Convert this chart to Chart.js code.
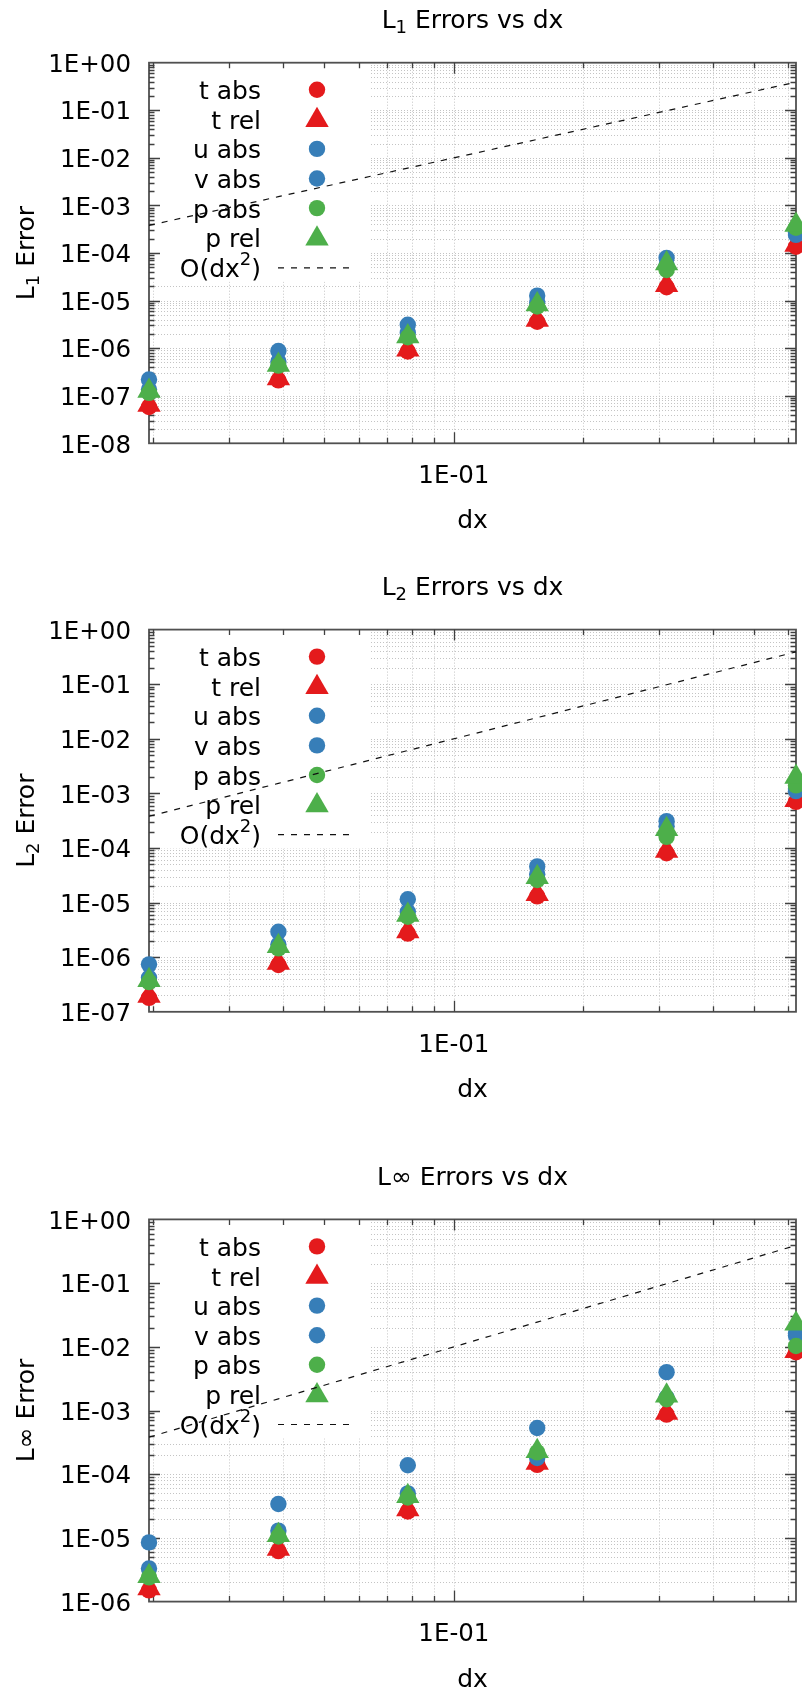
<!DOCTYPE html>
<html><head><meta charset="utf-8">
<script src="https://cdn.jsdelivr.net/npm/chart.js@4.4.1/dist/chart.umd.min.js"></script>
<style>
html,body{margin:0;padding:0;background:#fff;}
#wrap{position:relative;width:802px;height:1691px;overflow:hidden;background:#fff;}
canvas{position:absolute;left:0;}
</style></head><body>
<div id="wrap">
<canvas id="c1" width="802" height="563" style="top:0px"></canvas>
<canvas id="c2" width="802" height="564" style="top:563px"></canvas>
<canvas id="c3" width="802" height="564" style="top:1127px"></canvas>
</div>
<script>
// ---------------- data ----------------
const dx = [0.01953125, 0.0390625, 0.078125, 0.15625, 0.3125, 0.625];
const seriesNames = ['t abs', 't rel', 'u abs', 'v abs', 'p abs', 'p rel'];
const refLineParts = [{t:'O(dx'}, {t:'2', sup:true}, {t:')'}];
const refLine = [0.000381, 0.001526, 0.0061, 0.0244, 0.0977, 0.3906];

const l1TAbs = [5.8e-8, 2.1e-7, 8.5e-7, 3.6e-6, 1.9e-5, 1.35e-4];
const l1TRel = [6.4e-8, 2.3e-7, 9.2e-7, 3.9e-6, 2.1e-5, 1.48e-4];
const l1UAbs = [2.2e-7, 8.7e-7, 3.1e-6, 1.27e-5, 7.9e-5, 2.7e-4];
const l1VAbs = [1.35e-7, 5.2e-7, 2.1e-6, 9.0e-6, 5.5e-5, 2.4e-4];
const l1PAbs = [1.15e-7, 4.3e-7, 1.7e-6, 7.5e-6, 4.4e-5, 3.4e-4];
const l1PRel = [1.25e-7, 4.4e-7, 1.76e-6, 8.3e-6, 6.0e-5, 3.9e-4];

const l2TAbs = [1.8e-7, 7.2e-7, 2.7e-6, 1.3e-5, 8.0e-5, 7.0e-4];
const l2TRel = [1.95e-7, 7.8e-7, 2.95e-6, 1.42e-5, 8.8e-5, 7.5e-4];
const l2UAbs = [7.4e-7, 2.93e-6, 1.15e-5, 4.6e-5, 3.1e-4, 1.2e-3];
const l2VAbs = [4.2e-7, 1.7e-6, 6.8e-6, 3.3e-5, 2.5e-4, 1.1e-3];
const l2PAbs = [3.5e-7, 1.45e-6, 5.5e-6, 2.6e-5, 1.6e-4, 1.4e-3];
const l2PRel = [3.8e-7, 1.58e-6, 5.9e-6, 2.9e-5, 2.2e-4, 2.0e-3];

const liTAbs = [1.5e-6, 6.2e-6, 2.6e-5, 1.4e-4, 8.6e-4, 8.2e-3];
const liTRel = [1.6e-6, 6.7e-6, 2.8e-5, 1.5e-4, 9.1e-4, 8.5e-3];
const liUAbs = [8.5e-6, 3.4e-5, 1.38e-4, 5.3e-4, 4.0e-3, 1.6e-2];
const liVAbs = [3.3e-6, 1.3e-5, 5.0e-5, 1.8e-4, 1.6e-3, 1.5e-2];
const liPAbs = [2.4e-6, 1.05e-5, 4.3e-5, 2.2e-4, 1.5e-3, 1.03e-2];
const liPRel = [2.5e-6, 1.1e-5, 4.5e-5, 2.3e-4, 1.7e-3, 2.3e-2];

const xTickValues = [0.1];
const xTickLabels = ['1E-01'];
const yTicks1 = [1, 1e-1, 1e-2, 1e-3, 1e-4, 1e-5, 1e-6, 1e-7, 1e-8];
const yLabels1 = ['1E+00','1E-01','1E-02','1E-03','1E-04','1E-05','1E-06','1E-07','1E-08'];
const yTicks2 = [1, 1e-1, 1e-2, 1e-3, 1e-4, 1e-5, 1e-6, 1e-7];
const yLabels2 = ['1E+00','1E-01','1E-02','1E-03','1E-04','1E-05','1E-06','1E-07'];
const yTicks3 = [1, 1e-1, 1e-2, 1e-3, 1e-4, 1e-5, 1e-6];
const yLabels3 = ['1E+00','1E-01','1E-02','1E-03','1E-04','1E-05','1E-06'];

const title1 = [{t:'L'}, {t:'1', sub:true}, {t:' Errors vs dx'}];
const title2 = [{t:'L'}, {t:'2', sub:true}, {t:' Errors vs dx'}];
const title3 = [{t:'L∞ Errors vs dx'}];
const ylab1 = [{t:'L'}, {t:'1', sub:true}, {t:' Error'}];
const ylab2 = [{t:'L'}, {t:'2', sub:true}, {t:' Error'}];
const ylab3 = [{t:'L∞ Error'}];
const xAxisLabel = 'dx';

// ---------------- style ----------------
const RED = '#E41A1C', BLUE = '#377EB8', GREEN = '#4DAF4A';
const FONT = "'DejaVu Sans', 'Liberation Sans', sans-serif";
const MAIN = 25, TICKF = 24.5, SMALL = 18;
const styles = [
  {color: RED, shape: 'circle'}, {color: RED, shape: 'triangle'},
  {color: BLUE, shape: 'circle'}, {color: BLUE, shape: 'circle'},
  {color: GREEN, shape: 'circle'}, {color: GREEN, shape: 'triangle'}
];
const CIRC_R = 8.2, TRI_R = 13.5;

function richWidth(ctx, parts, size) {
  let w = 0;
  for (const p of parts) {
    ctx.font = ((p.sub || p.sup) ? SMALL : size) + 'px ' + FONT;
    w += ctx.measureText(p.t).width;
  }
  return w;
}
function drawRich(ctx, parts, x, y, align, size) {
  const w = richWidth(ctx, parts, size);
  let cx = align === 'center' ? x - w / 2 : align === 'right' ? x - w : x;
  ctx.textAlign = 'left';
  ctx.textBaseline = 'alphabetic';
  for (const p of parts) {
    ctx.font = ((p.sub || p.sup) ? SMALL : size) + 'px ' + FONT;
    const dy = p.sub ? 5 : p.sup ? -12 : 0;
    ctx.fillText(p.t, cx, y + dy);
    cx += ctx.measureText(p.t).width;
  }
}
function logGrid(min, max) {
  const out = [];
  for (let e = Math.floor(Math.log10(min)) - 1; e <= Math.ceil(Math.log10(max)); e++) {
    for (let m = 1; m < 10; m++) {
      const v = m * Math.pow(10, e);
      if (v > min * 1.0001 && v < max * 0.9999) out.push({v: v, major: m === 1});
    }
  }
  return out;
}
function drawMarker(ctx, shape, color, x, y) {
  ctx.fillStyle = color;
  ctx.beginPath();
  if (shape === 'circle') {
    ctx.arc(x, y, CIRC_R, 0, Math.PI * 2);
  } else {
    const r = TRI_R;
    ctx.moveTo(x, y - r);
    ctx.lineTo(x + r * Math.sin(2 * Math.PI / 3), y + r / 2);
    ctx.lineTo(x - r * Math.sin(2 * Math.PI / 3), y + r / 2);
    ctx.closePath();
  }
  ctx.fill();
}

const framePlugin = {
  id: 'frame',
  beforeDatasetsDraw(chart) {
    const cfg = chart.options.plugins.frame;
    const ctx = chart.ctx, a = chart.chartArea;
    const xs = chart.scales.x, ys = chart.scales.y;
    ctx.save();
    // grid
    ctx.strokeStyle = '#c4c4c4';
    ctx.lineWidth = 1;
    ctx.setLineDash([1, 2]);
    const gx = logGrid(xs.min, xs.max), gy = logGrid(ys.min, ys.max);
    for (const g of gx) {
      const px = Math.round(xs.getPixelForValue(g.v)) + 0.5;
      ctx.beginPath(); ctx.moveTo(px, a.top); ctx.lineTo(px, a.bottom); ctx.stroke();
    }
    for (const g of gy) {
      const py = Math.round(ys.getPixelForValue(g.v)) + 0.5;
      ctx.beginPath(); ctx.moveTo(a.left, py); ctx.lineTo(a.right, py); ctx.stroke();
    }
    ctx.setLineDash([]);
    // legend box
    ctx.fillStyle = '#fff';
    ctx.fillRect(a.left + 1, a.top + 1, 370 - a.left, 218);
    // legend entries
    const ds = chart.data.datasets;
    for (let i = 0; i < ds.length; i++) {
      const cy = a.top + 27 + i * 29.6;
      ctx.fillStyle = '#000';
      if (ds[i].isRef) {
        drawRich(ctx, refLineParts, 261, cy + 9.5, 'right', MAIN);
        ctx.strokeStyle = '#111'; ctx.lineWidth = 1.2; ctx.setLineDash([6, 7]);
        ctx.beginPath(); ctx.moveTo(278, cy + 0.5); ctx.lineTo(354, cy + 0.5); ctx.stroke();
        ctx.setLineDash([]);
      } else {
        drawRich(ctx, [{t: ds[i].label}], 261, cy + 9.5, 'right', MAIN);
        drawMarker(ctx, ds[i].shape, ds[i].pointBackgroundColor, 317, ds[i].shape === 'triangle' ? cy + 1 : cy);
      }
    }
    // border
    ctx.strokeStyle = '#505050';
    ctx.lineWidth = 1.8;
    ctx.strokeRect(a.left, a.top, a.right - a.left, a.bottom - a.top);
    // ticks on all four sides
    ctx.strokeStyle = '#404040';
    ctx.lineWidth = 1.3;
    for (const g of gx) {
      const px = Math.round(xs.getPixelForValue(g.v)) + 0.5;
      const L = g.major ? 11 : 5.5;
      ctx.beginPath();
      ctx.moveTo(px, a.bottom); ctx.lineTo(px, a.bottom - L);
      ctx.moveTo(px, a.top); ctx.lineTo(px, a.top + L);
      ctx.stroke();
    }
    for (const g of gy) {
      const py = Math.round(ys.getPixelForValue(g.v)) + 0.5;
      const L = g.major ? 11 : 5.5;
      ctx.beginPath();
      ctx.moveTo(a.left, py); ctx.lineTo(a.left + L, py);
      ctx.moveTo(a.right, py); ctx.lineTo(a.right - L, py);
      ctx.stroke();
    }
    // tick labels
    ctx.fillStyle = '#000';
    ctx.font = TICKF + 'px ' + FONT;
    ctx.textAlign = 'right';
    ctx.textBaseline = 'alphabetic';
    cfg.yTicks.forEach((v, i) => {
      const py = ys.getPixelForValue(v);
      ctx.fillText(cfg.yLabels[i], 131, py + 9.2);
    });
    ctx.textAlign = 'center';
    xTickValues.forEach((v, i) => {
      const px = xs.getPixelForValue(v);
      ctx.fillText(xTickLabels[i], px, a.bottom + 39.7);
    });
    // axis titles
    ctx.font = MAIN + 'px ' + FONT;
    ctx.fillText(xAxisLabel, (a.left + a.right) / 2, a.bottom + 85);
    drawRich(ctx, cfg.title, (a.left + a.right) / 2, a.top - 34.4, 'center', MAIN);
    ctx.save();
    ctx.translate(34, (a.top + a.bottom) / 2);
    ctx.rotate(-Math.PI / 2);
    drawRich(ctx, cfg.ylabel, 0, 0, 'center', MAIN);
    ctx.restore();
    ctx.restore();
  }
};

function makeChart(id, series, yMin, top, bottom, height, title, ylabel, yTicks, yLabels) {
  const datasets = series.map((vals, i) => ({
    label: seriesNames[i],
    shape: styles[i].shape,
    data: dx.map((x, j) => ({x: x, y: vals[j]})),
    showLine: false,
    pointStyle: styles[i].shape,
    pointRadius: styles[i].shape === 'triangle' ? TRI_R : CIRC_R,
    pointBackgroundColor: styles[i].color,
    pointBorderWidth: 0,
    pointBorderColor: styles[i].color,
    order: 6 - i,
    clip: false
  }));
  datasets.push({
    label: 'O(dx^2)',
    isRef: true,
    data: dx.map((x, j) => ({x: x, y: refLine[j]})),
    showLine: true,
    borderColor: '#111',
    borderWidth: 1.2,
    borderDash: [6, 7],
    pointRadius: 0,
    order: 0,
    clip: false
  });
  return new Chart(document.getElementById(id), {
    type: 'scatter',
    data: {datasets: datasets},
    options: {
      responsive: false,
      animation: false,
      devicePixelRatio: 1,
      events: [],
      layout: {autoPadding: false, padding: {top: top, right: 6, left: 0, bottom: 0}},
      plugins: {
        legend: {display: false},
        tooltip: {enabled: false},
        title: {display: false},
        frame: {title: title, ylabel: ylabel, yTicks: yTicks, yLabels: yLabels}
      },
      scales: {
        x: {
          type: 'logarithmic', min: dx[0], max: dx[dx.length - 1], bounds: 'data',
          grid: {display: false}, border: {display: false}, ticks: {display: false},
          afterFit: s => { s.height = height - bottom; s.paddingLeft = 0; s.paddingRight = 0; }
        },
        y: {
          type: 'logarithmic', min: yMin, max: 1, bounds: 'data',
          grid: {display: false}, border: {display: false}, ticks: {display: false},
          afterFit: s => { s.width = 149; s.paddingTop = 0; s.paddingBottom = 0; }
        }
      }
    },
    plugins: [framePlugin]
  });
}

makeChart('c1', [l1TAbs, l1TRel, l1UAbs, l1VAbs, l1PAbs, l1PRel], 1e-8, 62.7, 443.3, 563, title1, ylab1, yTicks1, yLabels1);
makeChart('c2', [l2TAbs, l2TRel, l2UAbs, l2VAbs, l2PAbs, l2PRel], 1e-7, 66.6, 448.8, 564, title2, ylab2, yTicks2, yLabels2);
makeChart('c3', [liTAbs, liTRel, liUAbs, liVAbs, liPAbs, liPRel], 1e-6, 92.4, 474.6, 564, title3, ylab3, yTicks3, yLabels3);
</script>
</body></html>
